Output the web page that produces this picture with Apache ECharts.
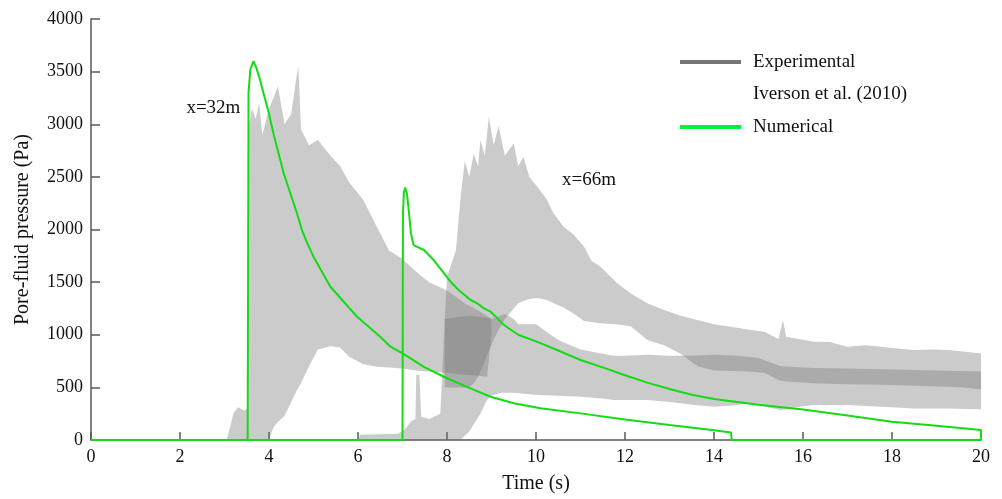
<!DOCTYPE html>
<html><head><meta charset="utf-8">
<script src="https://cdn.jsdelivr.net/npm/echarts@6/dist/echarts.min.js"></script>
<style>html,body{margin:0;padding:0;background:#fff}#c{width:1002px;height:499px}</style>
</head><body><div id="c"></div>
<script>
// ---- Numerical results (green) ----
const num32Time = [0,3.52,3.53,3.54,3.58,3.65,3.72,3.8,3.88,4.0,4.1,4.33,4.63,4.74,4.85,5.0,5.38,5.98,6.5,6.73,7.0,7.18,7.5,7.93,8.5,8.98,9.5,10.1,11.0,12.0,13.0,14.0,14.38,14.4,20];
const num32Pa   = [0,0,1500,3300,3520,3600,3530,3420,3290,3100,2913,2535,2153,1995,1880,1740,1456,1171,981,886,823,776,690,601,495,411,350,301,253,195,142,92,72,0,0];
const num66Time = [0,7.0,7.01,7.03,7.06,7.1,7.14,7.19,7.25,7.48,7.7,8.08,8.26,8.53,8.68,8.82,8.98,9.1,9.28,9.6,10.1,10.5,11.0,11.5,12.0,12.5,13.0,13.5,14.0,15.0,16.0,17.0,18.0,19.0,20.0,20.0];
const num66Pa   = [0,0,2150,2350,2400,2340,2185,1963,1852,1805,1710,1504,1425,1330,1298,1254,1219,1170,1093,1000,920,850,760,690,615,545,485,430,390,335,290,232,174,135,95,0];

// ---- Experimental envelopes (grey), Iverson et al. (2010) ----
const exp32Time  = [3.05,3.2,3.3,3.45,3.52,3.55,3.62,3.7,3.78,3.85,4.0,4.1,4.2,4.35,4.5,4.6,4.66,4.72,4.9,5.1,5.38,5.6,5.8,6.12,6.43,6.7,7.0,7.3,7.6,8.0,8.4,8.7,8.9,9.0];
const exp32Upper = [0,250,310,280,300,3000,3150,3050,3200,2900,3150,3250,3360,3000,3100,3400,3550,2950,2800,2850,2700,2600,2450,2280,2020,1800,1720,1600,1500,1420,1300,1230,1180,1150];
const exp32Lower = [0,0,0,0,0,0,0,0,0,0,0,120,170,230,360,450,500,540,700,860,890,880,790,720,696,690,680,660,650,640,620,610,600,1000];

const exp66LoTime  = [6.0,6.05,6.9,7.05,7.2,7.29,7.31,7.38,7.42,7.6,7.85,7.95,8.3,8.5,8.75,8.9,9.0,9.2,9.3,9.5,9.6,10.0,10.5,11.0,11.5,11.75,12.0,12.5,13.0,13.25,13.5,14.0,14.5,14.75,15.0,15.5,16.0,16.25,17.0,17.75,18.0,18.5,19.0,19.25,20.0];
const exp66LoUpper = [0,50,60,100,180,200,620,620,220,200,250,1150,1170,1180,1170,1160,1150,1180,1200,1150,1100,1100,950,860,820,800,800,810,800,800,800,810,800,790,780,700,690,685,680,672,670,665,660,658,650];
const exp66LoLower = [0,0,0,0,0,0,0,0,0,0,0,0,0,80,250,380,420,450,450,450,445,430,420,411,395,380,380,380,360,348,335,316,330,348,330,285,320,332,332,316,312,300,300,300,291];

const exp66HiTime  = [7.95,8.0,8.2,8.3,8.4,8.5,8.6,8.7,8.75,8.85,8.94,9.05,9.16,9.3,9.5,9.6,9.72,9.85,10.03,10.25,10.4,10.62,10.85,11.08,11.25,11.45,11.8,12.13,12.5,12.88,13.25,13.63,14.0,14.38,14.75,15.13,15.45,15.55,15.62,16.25,16.6,17.0,17.4,17.75,18.1,18.5,18.9,19.25,19.6,20.0];
const exp66HiUpper = [1150,1550,1800,2280,2650,2500,2720,2600,2850,2700,3070,2800,2980,2700,2820,2600,2690,2500,2406,2280,2150,2026,1950,1836,1700,1646,1500,1393,1300,1235,1180,1140,1100,1076,1050,1029,960,1140,980,934,930,886,900,886,870,855,860,855,840,823];
const exp66HiLower = [500,500,500,500,500,500,540,600,650,750,850,950,1050,1150,1250,1300,1320,1340,1350,1330,1300,1260,1200,1130,1120,1110,1100,1080,950,900,820,700,660,655,650,640,570,560,555,540,535,530,528,525,520,515,510,505,500,480];

// ---- Text ----
const xTitle = 'Time (s)';
const yTitle = 'Pore-fluid pressure (Pa)';
const annotations = [{text:'x=32m', t:2.75, p:3150}, {text:'x=66m', t:11.19, p:2470}];
const legendItems = ['Experimental', 'Iverson et al. (2010)', 'Numerical'];

const FONT = 'Liberation Serif';
const GREEN = '#14dc14';
const BANDFILL = 'rgba(118,118,118,0.38)';

function zip(a, b){ return a.map((v,i)=>[v,b[i]]); }
function band(name, t, up, low){
  return {
    type:'custom', name, coordinateSystem:'cartesian2d', silent:true, z:1,
    data:[[t[0], up[0]]],
    renderItem:(params, api)=>{
      const pts = [];
      for (let i=0;i<t.length;i++) pts.push(api.coord([t[i], up[i]]));
      for (let i=t.length-1;i>=0;i--) pts.push(api.coord([t[i], low[i]]));
      return {type:'polygon', shape:{points:pts}, style:{fill:BANDFILL, stroke:null}};
    }
  };
}

const chart = echarts.init(document.getElementById('c'));
const axisCommon = {
  axisLine:{show:true, lineStyle:{color:'#5a5a5a', width:1.5}},
  axisTick:{show:true, inside:true, lineStyle:{color:'#5a5a5a', width:1.5}},
  splitLine:{show:false},
  axisLabel:{color:'#111', fontFamily:FONT, fontSize:18, formatter:v=>String(v)},
  nameTextStyle:{color:'#111', fontFamily:FONT, fontSize:20}
};
chart.setOption({
  animation:false,
  backgroundColor:'#fff',
  grid:{left:91, right:21, top:19, bottom:59},
  xAxis:Object.assign({}, axisCommon, {
    type:'value', min:0, max:20, interval:2,
    name:xTitle, nameLocation:'middle', nameGap:34,
    axisTick:Object.assign({}, axisCommon.axisTick, {length:8}),
    axisLabel:Object.assign({}, axisCommon.axisLabel, {margin:8})
  }),
  yAxis:Object.assign({}, axisCommon, {
    type:'value', min:0, max:4000, interval:500,
    name:yTitle, nameLocation:'middle', nameGap:58,
    axisTick:Object.assign({}, axisCommon.axisTick, {length:9}),
    axisLabel:Object.assign({}, axisCommon.axisLabel, {margin:8})
  }),
  series:[
    band('exp32', exp32Time, exp32Upper, exp32Lower),
    band('exp66lo', exp66LoTime, exp66LoUpper, exp66LoLower),
    band('exp66hi', exp66HiTime, exp66HiUpper, exp66HiLower),
    {type:'line', name:'num32', data:zip(num32Time, num32Pa), showSymbol:false, z:3,
     lineStyle:{color:GREEN, width:2}},
    {type:'line', name:'num66', data:zip(num66Time, num66Pa), showSymbol:false, z:3,
     lineStyle:{color:GREEN, width:2}}
  ]
});

const graphics = [];
annotations.forEach(a=>{
  const px = chart.convertToPixel({gridIndex:0}, [a.t, a.p]);
  graphics.push({type:'text', x:px[0], y:px[1], z:10,
    style:{text:a.text, fill:'#111', font:'19px "'+FONT+'"', textAlign:'center', textVerticalAlign:'middle'}});
});
graphics.push({type:'line', z:10, shape:{x1:680,y1:62,x2:741,y2:62}, style:{stroke:'#767676', lineWidth:4}});
graphics.push({type:'line', z:10, shape:{x1:680,y1:127,x2:741,y2:127}, style:{stroke:'#00f03c', lineWidth:4}});
[[legendItems[0],62],[legendItems[1],94],[legendItems[2],127]].forEach(([s,y])=>{
  graphics.push({type:'text', x:753, y:y, z:10,
    style:{text:s, fill:'#111', font:'19px "'+FONT+'"', textAlign:'left', textVerticalAlign:'middle'}});
});
chart.setOption({graphic:graphics});
</script>
</body></html>
